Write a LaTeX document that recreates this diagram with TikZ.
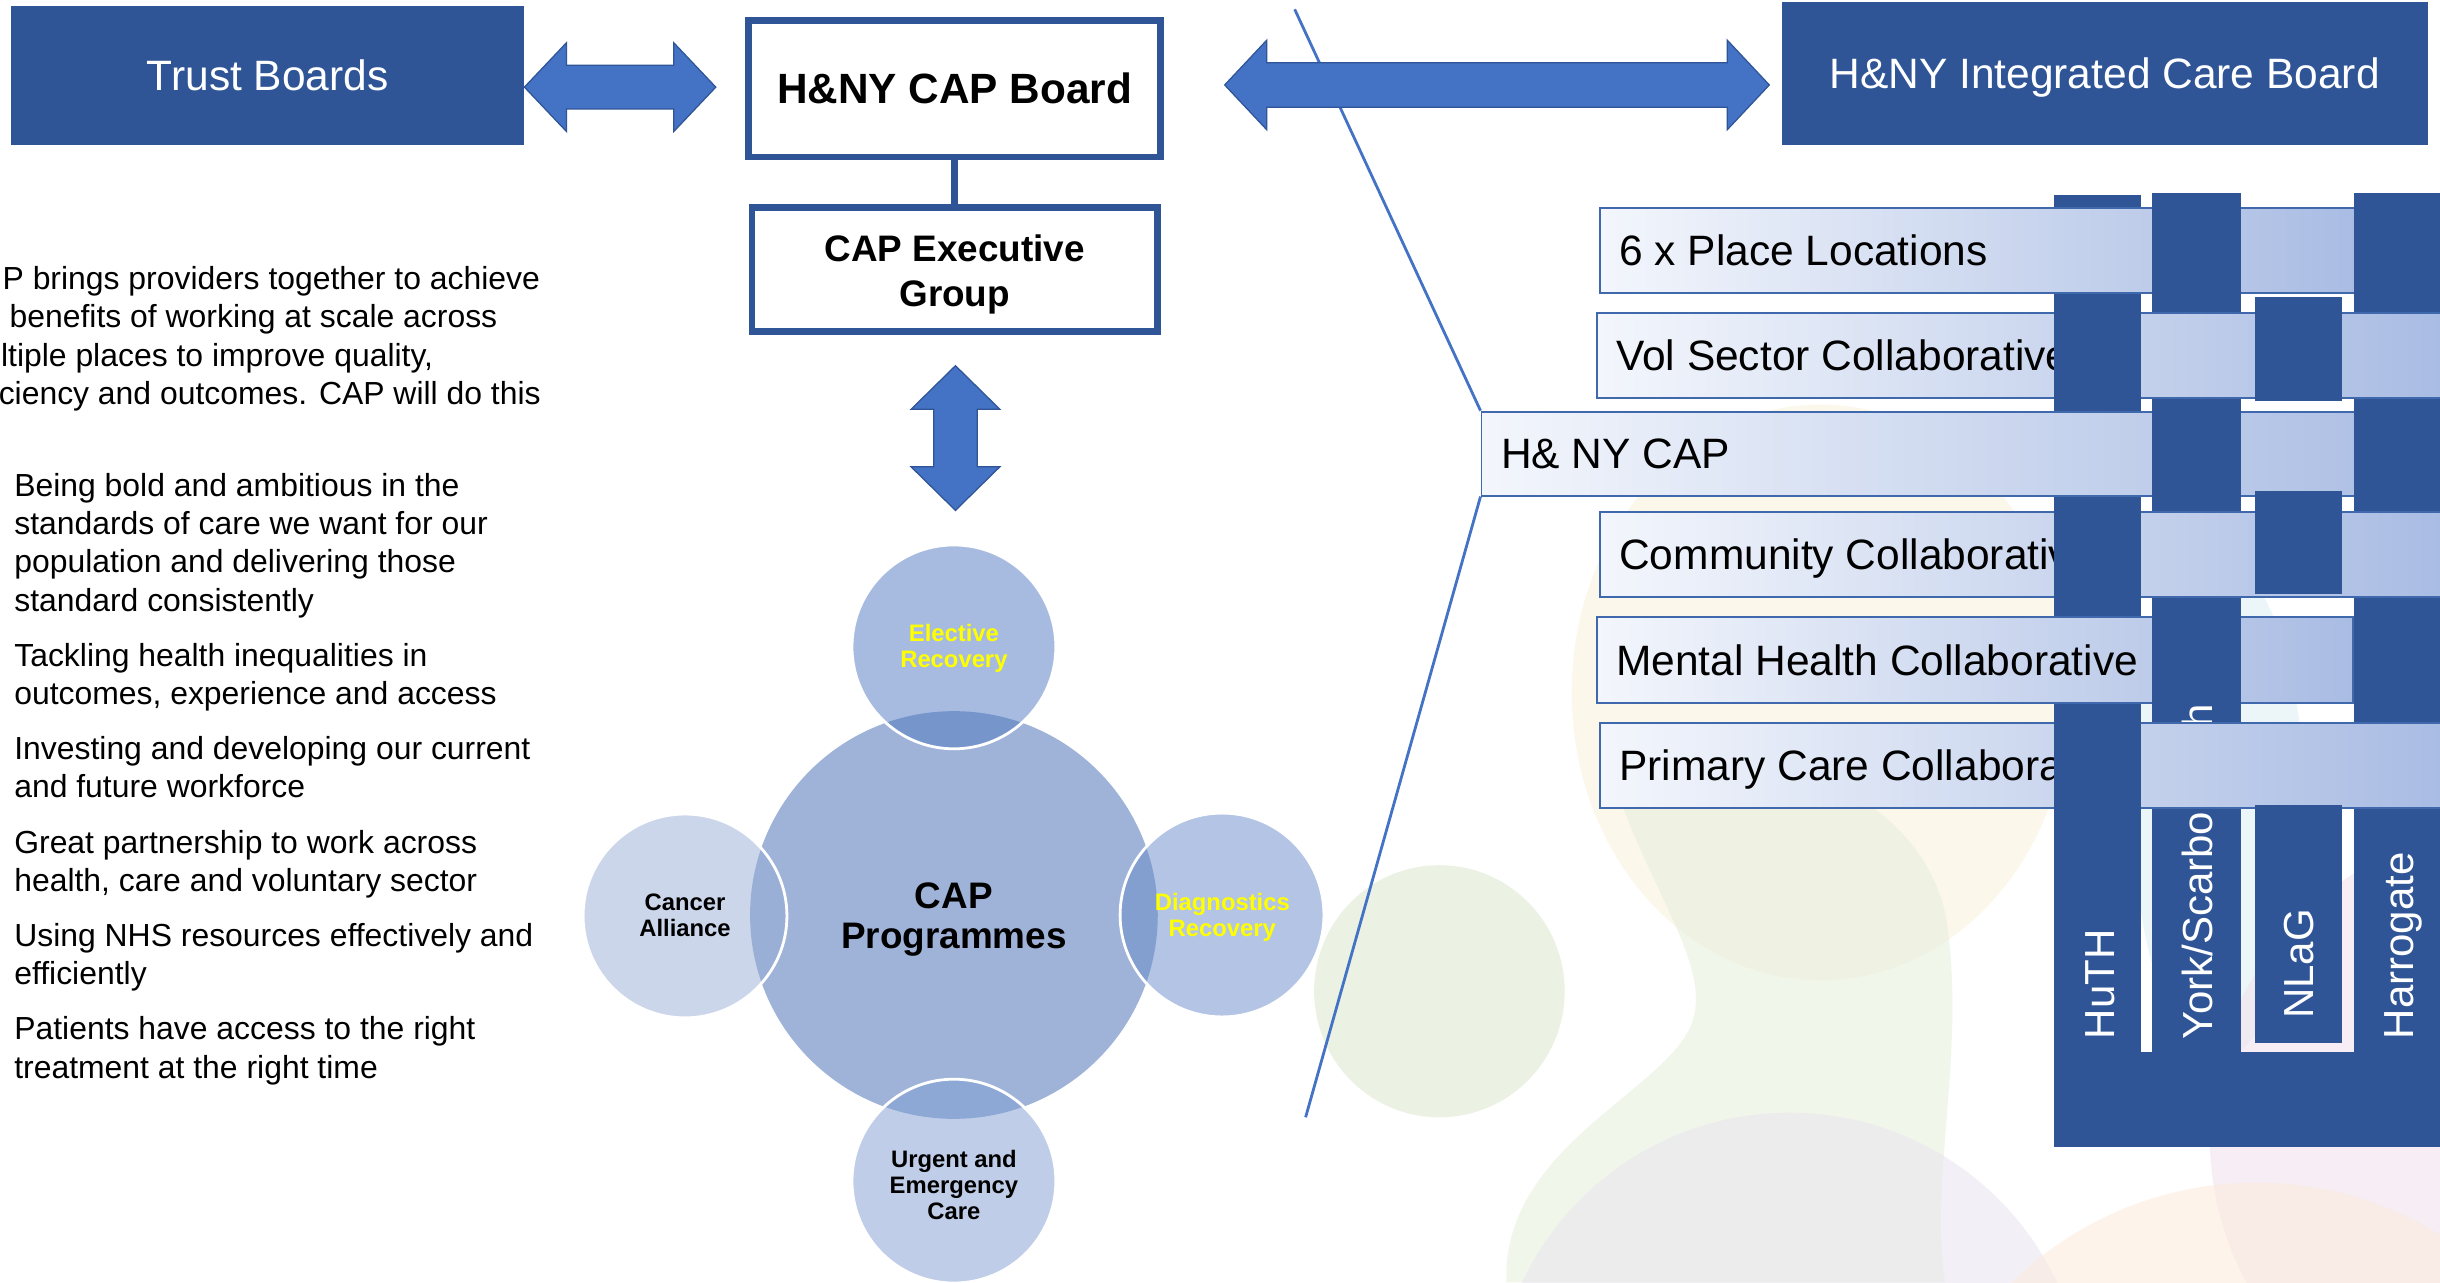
\documentclass[tikz,border=0pt]{standalone}
\usepackage{fontspec}
\setmainfont{Liberation Sans}
\usetikzlibrary{calc}

\definecolor{deepblue}{HTML}{2F5597}
\definecolor{arrowblue}{HTML}{4472C4}
\definecolor{barpale}{HTML}{F3F6FC}
\definecolor{barsoft}{HTML}{A9BCE3}
\definecolor{barrule}{HTML}{4068AD}
\definecolor{hubfill}{HTML}{9FB3D9}
\definecolor{elecfill}{HTML}{A7BBE0}
\definecolor{elecover}{HTML}{7595CB}
\definecolor{cancfill}{HTML}{CCD6EB}
\definecolor{cancover}{HTML}{9AAFD6}
\definecolor{diagfill}{HTML}{B3C4E5}
\definecolor{diagover}{HTML}{839FD0}
\definecolor{urgfill}{HTML}{C0CDE8}
\definecolor{urgover}{HTML}{8EA8D5}
\definecolor{signal}{HTML}{FFFF00}
\definecolor{washyellow}{HTML}{FAF1DC}
\definecolor{washgreen}{HTML}{E6EFDC}
\definecolor{washlilac}{HTML}{E9E5F0}
\definecolor{washpeach}{HTML}{FCEADB}
\definecolor{washpink}{HTML}{F2DFEB}
\definecolor{washsky}{HTML}{DDEFF5}

\newcommand{\fsz}[2]{\fontsize{#1}{#2}\selectfont}

\begin{document}
\begin{tikzpicture}[x=1pt,y=-1pt,
  navybox/.style={rectangle, fill=deepblue, text=white, inner sep=0pt,
    font=\fsz{27.3}{33}, text height=19.6pt, text depth=0pt},
  boardbox/.style={rectangle, fill=white, draw=deepblue, line width=4.3pt, inner sep=0pt},
  boardtext/.style={align=center, inner sep=0pt},
  blockarrow/.style={fill=arrowblue, draw=deepblue, line width=0.8pt, line join=miter},
  hubdisc/.style={circle, minimum size=262pt, inner sep=0pt, fill=hubfill},
  spoke/.style={circle, minimum size=131pt, inner sep=0pt},
  spokerim/.style={draw=white, line width=1.8pt},
  spoketext/.style={align=center, inner sep=0pt, font=\bfseries\fsz{15.3}{16.5}},
  bodyline/.style={anchor=base west, inner sep=0pt, font=\fsz{20.5}{24.6}},
  weftbar/.style={rectangle, inner sep=0pt, draw=barrule, line width=1.2pt,
    left color=barpale, right color=barsoft},
  barlabel/.style={anchor=base west, inner sep=0pt, font=\fsz{27.3}{33}},
  colname/.style={rotate=90, anchor=base west, text=white, inner sep=0pt, font=\fsz{27}{32}},
  leader/.style={arrowblue, line width=1.8pt},
  wash/.style={fill opacity=0.55},
]
\useasboundingbox (0,0) rectangle (1568,824);
\clip (0,0) rectangle (1568,824);
\fill[white] (0,0) rectangle (1568,824);

% ---------- soft colour washes in the lower right ----------
\fill[washyellow, wash] (1170,445) ellipse [x radius=160pt, y radius=185pt];
\fill[washgreen, wash] (1031,480) .. controls (1050,560) and (1100,615) .. (1088,655)
   .. controls (1075,700) and (965,735) .. (968,824) -- (1250,824)
   .. controls (1240,760) and (1262,680) .. (1252,600)
   .. controls (1245,520) and (1150,470) .. (1031,480) -- cycle;
\fill[washsky, wash] (1426,520) ellipse [x radius=55pt, y radius=160pt];
\fill[washpink, wash] (1620,730) circle [radius=200pt];
\fill[washlilac, wash] (1150,905) circle [radius=190pt];
\fill[washpeach, wash] (1450,985) circle [radius=225pt];
\fill[washgreen, fill opacity=0.8] (925,637) ellipse [x radius=80.5pt, y radius=81pt];

% ---------- top row of boards ----------
\node[navybox, minimum width=330pt, minimum height=89pt] (tb) at (172,48.5) {Trust Boards};
\node[boardbox, minimum width=264.7pt, minimum height=87.7pt] (board) at (613.5,57) {};
\node[boardtext, font=\bfseries\fsz{27.2}{32}] (boardt) at (board.center) {H\&NY CAP Board};
\node[boardbox, minimum width=260.7pt, minimum height=79.7pt] (exec) at (613.5,173) {};
\node[boardtext, font=\bfseries\fsz{23.7}{29}] (exect) at ($(exec.center)+(0,3.5)$) {CAP Executive\\Group};
\draw[deepblue, line width=4.3pt] (board.south) -- (exec.north);
\node[navybox, minimum width=415pt, minimum height=92pt] (icb) at (1352.5,47) {H\&NY Integrated Care Board};

% ---------- leader lines fanning out to the CAP bar ----------
\coordinate (ltop) at (832,6);
\coordinate (lbot) at (839,718);

% ---------- block arrows ----------
\coordinate (la) at (337,56);
\path[blockarrow] (la) -- ++(27,-28.5) -- ++(0,14.5) -- ++(69,0) -- ++(0,-14.5)
   -- ++(27,28.5) -- ++(-27,28.5) -- ++(0,-14.5) -- ++(-69,0) -- ++(0,14.5) -- cycle;
\coordinate (va) at (614,235);
\path[blockarrow] (va) -- ++(28.5,28) -- ++(-14.5,0) -- ++(0,37) -- ++(14.5,0)
   -- ++(-28.5,28) -- ++(-28.5,-28) -- ++(14.5,0) -- ++(0,-37) -- ++(-14.5,0) -- cycle;

% ---------- left-hand text ----------
\foreach \nm/\ny/\nx/\tx in {
  pa/186/1.5/{P brings providers together to achieve},
  pb/210.6/6/{benefits of working at scale across},
  pc/235.2/0.5/{ltiple places to improve quality,},
  pd/259.8/-1/{ciency and outcomes. CAP will do this},
  ia/319/9/{Being bold and ambitious in the},
  ib/343.6/9/{standards of care we want for our},
  ic/368.2/9/{population and delivering those},
  id/392.8/9/{standard consistently},
  ja/428.2/9/{Tackling health inequalities in},
  jb/452.8/9/{outcomes, experience and access},
  ka/488.2/9/{Investing and developing our current},
  kb/512.8/9/{and future workforce},
  ma/548.2/9/{Great partnership to work across},
  mb/572.8/9/{health, care and voluntary sector},
  na/608.2/9/{Using NHS resources effectively and},
  nb/632.8/9/{efficiently},
  oa/668.2/9/{Patients have access to the right},
  ob/692.8/9/{treatment at the right time}}
  \node[bodyline] (\nm) at (\nx,\ny) {\tx};

% ---------- CAP programmes cluster ----------
\node[hubdisc] (hub) at (613,588) {};
\node[spoke, fill=elecfill] (elec) at (613,415.7) {};
\node[spoke, fill=cancfill] (canc) at (440.2,588.6) {};
\node[spoke, fill=diagfill] (diag) at (785.3,588) {};
\node[spoke, fill=urgfill] (urg) at (613,759) {};
\begin{scope}
  \clip (hub.center) circle [radius=131pt];
  \fill[elecover] (elec.center) circle [radius=65.5pt];
  \fill[cancover] (canc.center) circle [radius=65.5pt];
  \fill[diagover] (diag.center) circle [radius=65.5pt];
  \fill[urgover] (urg.center) circle [radius=65.5pt];
\end{scope}
\foreach \s in {elec,canc,diag,urg}
  \draw[spokerim] (\s.center) circle [radius=65.5pt];
\node[boardtext, font=\bfseries\fsz{23.7}{26}] (hubt) at (613,591) {CAP\\Programmes};
\node[spoketext, text=signal] (elect) at (613,416.5) {Elective\\Recovery};
\node[spoketext] (canct) at (440.2,588) {Cancer\\Alliance};
\node[spoketext, text=signal] (diagt) at (785.5,589.5) {Diagnostics\\Recovery};
\node[spoketext] (urgt) at (613,761.4) {Urgent and\\Emergency\\Care};

% ---------- woven collaboratives ----------
% provider trusts running underneath
\fill[deepblue] (1320,125) rectangle (1376,676);
\fill[deepblue] (1383,124) rectangle (1440,676);
\fill[deepblue] (1513,124) rectangle (1570,676);
\node[colname] (york) at (1421.7,668) {York/Scarborough};

% collaborative bars
\node[weftbar, minimum width=487pt, minimum height=55pt] (r1) at (1271.5,161) {};
\node[weftbar, minimum width=544pt, minimum height=55pt] (r2) at (1298,228.5) {};
\node[weftbar, minimum width=618pt, minimum height=54pt] (r3) at (1261,291.5) {};
\node[weftbar, minimum width=542pt, minimum height=54.5pt] (r4) at (1299,356.25) {};
\node[weftbar, minimum width=486pt, minimum height=55pt] (r5) at (1269,424) {};
\node[weftbar, minimum width=542pt, minimum height=55pt] (r6) at (1299,492) {};
\node[barlabel] (r1t) at ($(r1.west)+(13,9.8)$) {6 x Place Locations};
\node[barlabel] (r2t) at ($(r2.west)+(13,9.8)$) {Vol Sector Collaborative};
\node[barlabel] (r3t) at ($(r3.west)+(13,9.8)$) {H\& NY CAP};
\node[barlabel] (r4t) at ($(r4.west)+(13,9.8)$) {Community Collaborative};
\node[barlabel] (r5t) at ($(r5.west)+(13,9.8)$) {Mental Health Collaborative};
\node[barlabel] (r6t) at ($(r6.west)+(13,9.8)$) {Primary Care Collaborative};

\draw[leader] (ltop) -- (r3.north west);
\draw[leader] (r3.south west) -- (lbot);

% trust columns passing over the bars
\fill[deepblue] (1320,199.5) rectangle (1376,257.5);
\fill[deepblue] (1320,327.5) rectangle (1376,385);
\fill[deepblue] (1320,463) rectangle (1376,521);
\fill[deepblue] (1383,132) rectangle (1440,190);
\fill[deepblue] (1383,263) rectangle (1440,320);
\fill[deepblue] (1383,395) rectangle (1440,453);
\fill[deepblue] (1513,132) rectangle (1570,190);
\fill[deepblue] (1513,263) rectangle (1570,320);
\fill[deepblue] (1513,395) rectangle (1570,453);
\fill[deepblue] (1449,191) rectangle (1505,257.5);
\fill[deepblue] (1449,315.5) rectangle (1505,381.5);

% foot of the weave
\fill[deepblue] (1449,517.5) rectangle (1505,670);
\fill[deepblue] (1320,676) rectangle (1570,737);
\node[colname] (huth) at (1358.7,668) {HuTH};
\node[colname] (nlag) at (1486.7,655) {NLaG};
\node[colname] (harr) at (1550.7,668) {Harrogate};

% ---------- arrow to the integrated care board ----------
\coordinate (ra) at (787,54.6);
\path[blockarrow] (ra) -- ++(27,-28.75) -- ++(0,14.5) -- ++(296,0) -- ++(0,-14.5)
   -- ++(27,28.75) -- ++(-27,28.75) -- ++(0,-14.5) -- ++(-296,0) -- ++(0,14.5) -- cycle;
\end{tikzpicture}
\end{document}
